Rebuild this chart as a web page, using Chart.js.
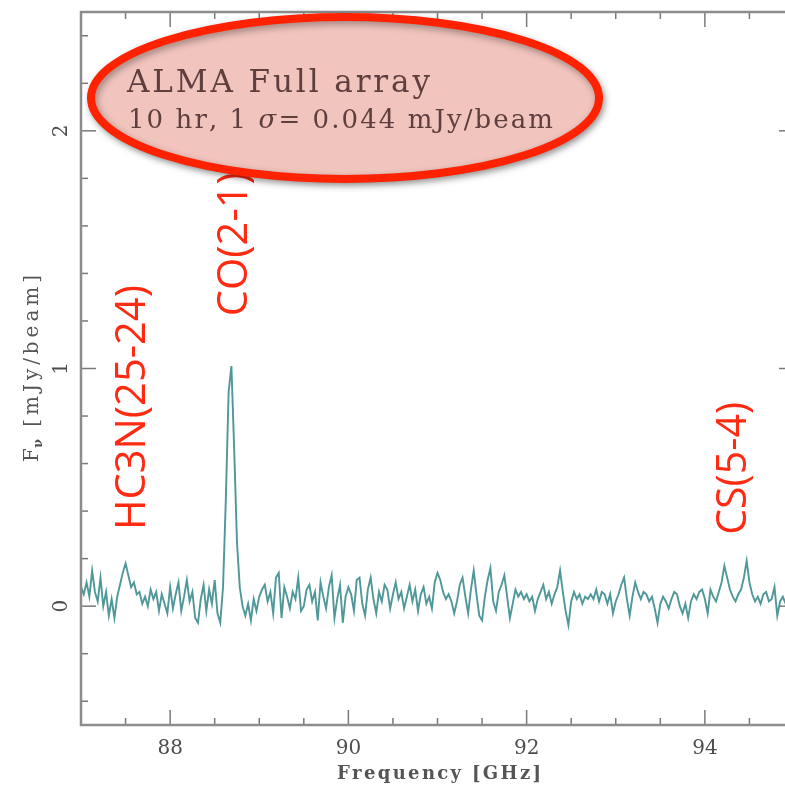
<!DOCTYPE html>
<html>
<head>
<meta charset="utf-8">
<title>ALMA spectrum</title>
<script src="https://cdn.jsdelivr.net/npm/chart.js@4.4.1/dist/chart.umd.min.js"></script>
<style>
html, body { margin: 0; padding: 0; background: #fff; overflow: hidden; }
#wrap { position: relative; width: 800px; height: 792px; }
</style>
</head>
<body>
<div id="wrap"><canvas id="spectrum" width="800" height="792"></canvas></div>
<script>
// Channel grid of the spectrum [GHz]
const freqStart = 87.0;
const chanWidth = 0.03125;

// Flux per channel [mJy/beam]
const flux = [
    0.08, 0.05, 0.10, 0.04, 0.15, 0.06, 0.02, 0.12, 0.00, 0.06, -0.04, 0.03, -0.05, 0.04, 0.09, 0.14,
    0.18, 0.13, 0.08, 0.10, 0.05, 0.06, 0.01, 0.04, 0.00, 0.07, 0.03, 0.06, -0.02, 0.05, 0.01, -0.03,
    0.08, -0.01, 0.05, 0.10, -0.02, 0.04, 0.11, 0.02, 0.06, -0.05, -0.07, 0.03, 0.09, -0.02, 0.07, 0.01,
    0.11, -0.03, -0.07, 0.08, 0.45, 0.90, 1.01, 0.66, 0.27, 0.08, 0.00, -0.04, 0.01, -0.06, 0.03, -0.02,
    0.04, 0.07, 0.09, 0.02, 0.06, -0.03, 0.12, 0.14, -0.05, 0.08, 0.04, -0.01, 0.06, 0.03, 0.12, -0.02,
    0.00, 0.07, 0.09, 0.02, 0.06, -0.06, 0.10, 0.04, -0.01, 0.08, 0.13, -0.05, 0.03, 0.09, -0.07, 0.04,
    0.08, 0.05, -0.02, 0.11, 0.12, 0.01, -0.04, 0.07, 0.12, 0.03, -0.03, 0.06, 0.02, 0.09, 0.07, -0.01,
    0.05, 0.10, 0.03, 0.06, -0.01, 0.04, 0.09, 0.02, 0.07, -0.02, 0.05, 0.08, 0.01, 0.04, -0.01, 0.10,
    0.14, 0.11, 0.06, 0.03, 0.05, 0.02, -0.03, 0.02, 0.09, 0.12, 0.04, -0.03, 0.07, 0.15, 0.05, -0.04,
    -0.06, 0.04, 0.11, 0.16, 0.02, -0.02, 0.06, 0.09, 0.13, 0.04, -0.05, 0.01, 0.07, 0.04, 0.06, 0.03,
    0.05, 0.02, 0.04, -0.02, 0.03, 0.06, 0.09, 0.03, 0.06, 0.01, 0.05, 0.08, 0.15, 0.06, -0.02, -0.08,
    0.02, 0.06, 0.03, 0.05, 0.01, 0.04, 0.03, 0.05, 0.03, 0.07, 0.02, 0.06, 0.05, 0.01, 0.05, -0.03,
    0.02, 0.05, 0.09, 0.12, 0.03, -0.04, 0.04, 0.10, 0.06, 0.03, 0.06, 0.05, 0.02, 0.04, -0.01, -0.07,
    0.01, 0.04, 0.02, -0.01, 0.03, 0.06, 0.05, 0.00, -0.03, 0.01, -0.05, 0.02, 0.05, 0.03, 0.06, 0.07,
    0.03, -0.03, 0.07, 0.04, 0.02, 0.06, 0.10, 0.17, 0.12, 0.07, 0.04, 0.02, 0.05, 0.07, 0.12, 0.19,
    0.10, 0.05, 0.02, 0.04, 0.01, 0.05, 0.06, 0.02, 0.03, 0.08, -0.04, 0.02, 0.04, 0.01, 0.03, 0.05,
    0.02
];

// Axes
const xMin = 87, xMax = 95;
const yMin = -0.5, yMax = 2.5;
const xTickValues = [88, 90, 92, 94];
const xMinorTicks = [87, 87.5, 88, 88.5, 89, 89.5, 90, 90.5, 91, 91.5, 92, 92.5, 93, 93.5, 94, 94.5, 95];
const yTickValues = [0, 1, 2];
const yMinorTicks = [-0.4, -0.2, 0, 0.2, 0.4, 0.6, 0.8, 1, 1.2, 1.4, 1.6, 1.8, 2, 2.2, 2.4];
const xTitle = 'Frequency [GHz]';
const yTitle = ' [mJy/beam]';

// Line identifications: label, frequency [GHz], flux where the text starts
const lineNames = ['HC3N(25-24)', 'CO(2-1)', 'CS(5-4)'];
const lineFreqs = [87.72, 88.86, 94.46];
const lineLabelStart = [0.32, 1.22, 0.30];

const noteTitle = 'ALMA Full array';
const notePieces = ['10 hr, 1 ', 'σ', '= 0.044 mJy/beam'];

const points = flux.map((v, i) => ({ x: freqStart + i * chanWidth, y: v }));

// Draw text char by char with extra spacing (the plot font is very wide)
function spacedWidth(ctx, text, spacing) {
    let w = 0;
    for (const ch of text) w += ctx.measureText(ch).width + spacing;
    return w - spacing;
}

function drawSpaced(ctx, text, x, y, spacing) {
    for (const ch of text) {
        ctx.fillText(ch, x, y);
        x += ctx.measureText(ch).width + spacing;
    }
    return x;
}

function fitSpacing(ctx, text, width) {
    const n = [...text].length;
    return (width - spacedWidth(ctx, text, 0)) / (n - 1);
}

function strokeLine(ctx, x1, y1, x2, y2) {
    ctx.beginPath();
    ctx.moveTo(x1, y1);
    ctx.lineTo(x2, y2);
    ctx.stroke();
}

// Frame, inward ticks, rotated y labels, titles and annotations
const decorations = {
    id: 'decorations',
    afterDatasetsDraw(chart) {
        const { ctx, chartArea: a, scales: { x, y } } = chart;
        ctx.save();

        // tick marks on all four sides
        ctx.strokeStyle = '#7a7a7a';
        ctx.lineWidth = 1.5;
        xMinorTicks.forEach(v => {
            const px = x.getPixelForValue(v);
            const len = xTickValues.includes(v) ? 15 : 7;
            strokeLine(ctx, px, a.bottom, px, a.bottom - len);
            strokeLine(ctx, px, a.top, px, a.top + len);
        });
        yMinorTicks.forEach(v => {
            const py = y.getPixelForValue(v);
            const len = yTickValues.includes(v) ? 15 : 7;
            strokeLine(ctx, a.left, py, a.left + len, py);
            strokeLine(ctx, a.right, py, a.right - len, py);
        });

        // frame
        ctx.strokeStyle = '#8c8c8c';
        ctx.lineWidth = 2.5;
        ctx.strokeRect(a.left, a.top, a.right - a.left, a.bottom - a.top);

        // y tick labels, rotated
        ctx.fillStyle = '#4d4d4d';
        ctx.font = '20px "DejaVu Serif"';
        ctx.textAlign = 'center';
        ctx.textBaseline = 'middle';
        yTickValues.forEach(v => {
            ctx.save();
            ctx.translate(62, y.getPixelForValue(v));
            ctx.rotate(-Math.PI / 2);
            ctx.fillText(String(v), 0, 0);
            ctx.restore();
        });

        // x title
        ctx.textAlign = 'left';
        ctx.textBaseline = 'alphabetic';
        ctx.fillStyle = '#555';
        ctx.font = 'bold 18px "DejaVu Serif"';
        let sp = fitSpacing(ctx, xTitle, 204);
        drawSpaced(ctx, xTitle, 337, 779, sp);

        // y title with subscript nu
        ctx.save();
        ctx.translate(38, (a.top + a.bottom) / 2);
        ctx.rotate(-Math.PI / 2);
        ctx.font = '20px "DejaVu Serif"';
        const fW = ctx.measureText('F').width;
        ctx.font = 'bold 13px "DejaVu Serif"';
        const nuW = ctx.measureText('ν').width;
        ctx.font = '20px "DejaVu Serif"';
        sp = fitSpacing(ctx, yTitle, 187 - fW - nuW - 2);
        const restW = spacedWidth(ctx, yTitle, sp);
        let tx = -(fW + nuW + restW + 2) / 2;
        ctx.fillText('F', tx, 0);
        tx += fW;
        ctx.font = 'bold 13px "DejaVu Serif"';
        ctx.fillText('ν', tx, 4);
        tx += nuW + 2;
        ctx.font = '20px "DejaVu Serif"';
        drawSpaced(ctx, yTitle, tx, 0, sp);
        ctx.restore();

        // red line identifications, reading bottom to top
        ctx.fillStyle = '#ff2a12';
        const sizes = [245, 0, 133].map((w, i) => {
            ctx.font = '40px "Open Sans"';
            return w ? 40 * w / ctx.measureText(lineNames[i]).width : 0;
        });
        sizes[1] = sizes[0];
        lineNames.forEach((name, i) => {
            ctx.save();
            ctx.translate(x.getPixelForValue(lineFreqs[i]), y.getPixelForValue(lineLabelStart[i]));
            ctx.rotate(-Math.PI / 2);
            ctx.font = sizes[i].toFixed(1) + 'px "Open Sans"';
            ctx.fillText(name, 0, 0);
            ctx.restore();
        });

        // annotation ellipse
        ctx.save();
        ctx.beginPath();
        ctx.ellipse(345, 98, 254, 81, 0, 0, Math.PI * 2);
        ctx.shadowColor = 'rgba(0, 0, 0, 0.35)';
        ctx.shadowBlur = 7;
        ctx.shadowOffsetX = 2;
        ctx.shadowOffsetY = 3;
        ctx.fillStyle = '#f1c4bd';
        ctx.fill();
        ctx.lineWidth = 8;
        ctx.strokeStyle = '#ff2200';
        ctx.stroke();
        ctx.restore();

        ctx.fillStyle = '#5f3e3e';
        ctx.font = '31px "DejaVu Serif"';
        sp = fitSpacing(ctx, noteTitle, 303);
        drawSpaced(ctx, noteTitle, 127, 92, sp);

        ctx.font = '26px "DejaVu Serif"';
        sp = fitSpacing(ctx, notePieces.join(''), 425);
        tx = drawSpaced(ctx, notePieces[0], 128, 128, sp);
        ctx.font = 'italic 26px "DejaVu Serif"';
        tx = drawSpaced(ctx, notePieces[1], tx, 128, sp);
        ctx.font = '26px "DejaVu Serif"';
        drawSpaced(ctx, notePieces[2], tx, 128, sp);

        ctx.restore();
    }
};

new Chart(document.getElementById('spectrum'), {
    type: 'line',
    data: {
        datasets: [{
            data: points,
            borderColor: '#4f9798',
            borderWidth: 1.9,
            pointRadius: 0,
            tension: 0,
            fill: false
        }]
    },
    options: {
        responsive: false,
        animation: false,
        layout: {
            padding: { top: 12, right: 6, bottom: 0, left: 0 }
        },
        plugins: {
            legend: { display: false },
            tooltip: { enabled: false }
        },
        scales: {
            x: {
                type: 'linear',
                min: xMin,
                max: xMax,
                afterBuildTicks: scale => {
                    scale.ticks = xTickValues.map(v => ({ value: v }));
                },
                afterFit: scale => { scale.height = 67; },
                grid: { display: false, drawTicks: false },
                border: { display: false },
                ticks: {
                    padding: 12,
                    color: '#4d4d4d',
                    maxRotation: 0,
                    font: { family: 'DejaVu Serif', size: 20 }
                }
            },
            y: {
                type: 'linear',
                min: yMin,
                max: yMax,
                afterBuildTicks: scale => {
                    scale.ticks = yTickValues.map(v => ({ value: v }));
                },
                afterFit: scale => { scale.width = 81; },
                grid: { display: false, drawTicks: false },
                border: { display: false },
                ticks: { display: false }
            }
        }
    },
    plugins: [decorations]
});
</script>
</body>
</html>
